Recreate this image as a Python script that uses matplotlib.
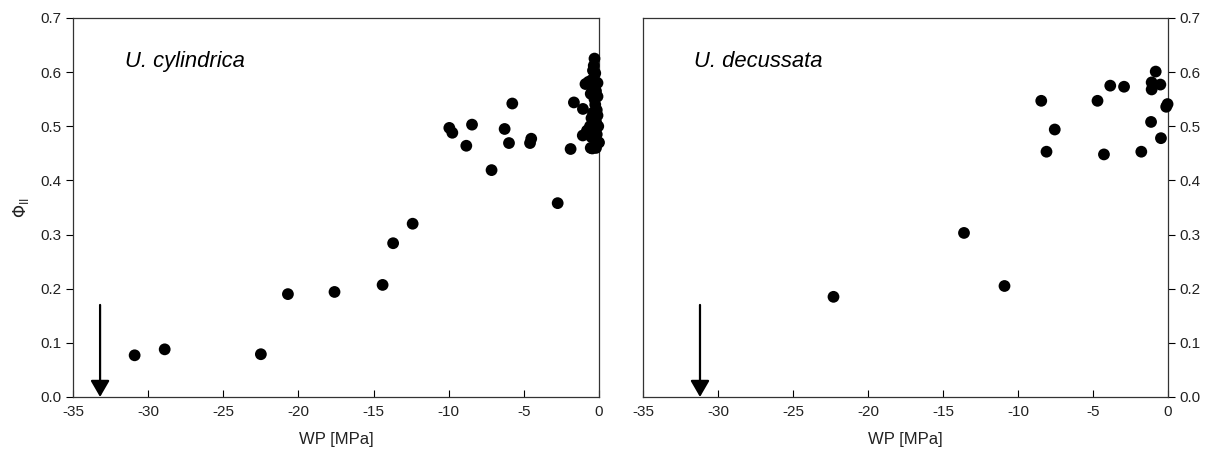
import matplotlib
matplotlib.use('Agg')
import matplotlib.pyplot as plt

plt.rcParams['font.family'] = ['Liberation Sans', 'DejaVu Sans']

# U. cylindrica: water potential [MPa] vs PhiII
cyl_wp = [-30.9, -28.9, -22.5, -20.7, -17.6, -14.4, -13.7, -12.4, -2.75, -7.15,
          -9.96, -9.76, -8.45, -8.83, -6.28, -5.99, -4.51, -4.59, -5.77,
          -1.67, -1.07, -1.89, -1.08, -0.45, 0.0,
          -0.3, -0.35, -0.4, -0.25, -0.5, -0.7, -0.1, -0.45, -0.2, -0.55,
          -0.1, -0.3, -0.25, -0.15, -0.4, -0.1, -0.5, -0.2, -0.6, -0.05,
          -0.35, -0.7, -0.15, -0.5, -0.05, -0.55, -0.2, -0.9, -0.8]
cyl_phi = [0.077, 0.088, 0.079, 0.190, 0.194, 0.207, 0.284, 0.320, 0.358, 0.419,
           0.497, 0.488, 0.503, 0.464, 0.495, 0.469, 0.477, 0.469, 0.542,
           0.544, 0.532, 0.458, 0.483, 0.459, 0.470,
           0.625, 0.612, 0.603, 0.598, 0.585, 0.582, 0.580, 0.572, 0.565, 0.560,
           0.555, 0.550, 0.540, 0.530, 0.525, 0.520, 0.515, 0.508, 0.500, 0.500,
           0.493, 0.490, 0.485, 0.480, 0.470, 0.460, 0.460, 0.578, 0.492]

# U. decussata
dec_wp = [-22.3, -13.6, -10.9, -8.45, -8.1, -7.55, -4.7, -4.27, -3.85, -2.93,
          -1.78, -1.13, -1.09, -1.09, -0.82, -0.51, -0.47, -0.12, -0.03]
dec_phi = [0.185, 0.303, 0.205, 0.547, 0.453, 0.494, 0.547, 0.448, 0.575, 0.573,
           0.453, 0.508, 0.581, 0.568, 0.601, 0.577, 0.478, 0.536, 0.541]

# arrow positions (x) marking the lethal water potential
cyl_arrow = -33.2
dec_arrow = -31.2

xticks = [-35, -30, -25, -20, -15, -10, -5, 0]
yticks = [0.0, 0.1, 0.2, 0.3, 0.4, 0.5, 0.6, 0.7]

fig = plt.figure(figsize=(12.05, 4.55), dpi=100)
ax1 = fig.add_axes([0.0606, 0.1275, 0.4365, 0.833])
ax2 = fig.add_axes([0.5336, 0.1275, 0.4357, 0.833])

text_col = '#222222'

for ax, wp, phi, arr, name in [(ax1, cyl_wp, cyl_phi, cyl_arrow, 'U. cylindrica'),
                                (ax2, dec_wp, dec_phi, dec_arrow, 'U. decussata')]:
    ax.scatter(wp, phi, s=72, color='black', edgecolors='none', zorder=3, clip_on=False)
    ax.annotate('', xy=(arr, 0.0), xytext=(arr, 0.17),
                arrowprops=dict(arrowstyle='-|>,head_width=0.58,head_length=1.0',
                                color='black', lw=1.6, shrinkA=0, shrinkB=0),
                annotation_clip=False, zorder=4)
    ax.set_xlim(-35, 0)
    ax.set_ylim(0, 0.7)
    ax.set_xticks(xticks)
    ax.set_xticklabels([str(t) for t in xticks])
    ax.set_yticks(yticks)
    ax.set_yticklabels([f'{t:.1f}' for t in yticks])
    ax.tick_params(axis='x', direction='in', length=5, width=0.8, labelsize=11,
                   labelcolor=text_col, pad=6)
    ax.tick_params(axis='y', direction='out', length=5, width=0.8, labelsize=11,
                   labelcolor=text_col)
    for sp in ax.spines.values():
        sp.set_linewidth(0.9)
        sp.set_color('#333333')
    ax.set_xlabel('WP [MPa]', fontsize=12, color=text_col, labelpad=9)
    ax.text(0.098, 0.884, name, transform=ax.transAxes, fontsize=15.8,
            style='italic', color='black', va='center')

ax1.set_ylabel(r'$\Phi_{\rm II}$', fontsize=12, color=text_col)
ax1.yaxis.set_label_coords(-0.08, 0.5)
ax2.yaxis.tick_right()
ax2.tick_params(axis='y', left=False, right=True)

fig.savefig('out.png', dpi=100)
